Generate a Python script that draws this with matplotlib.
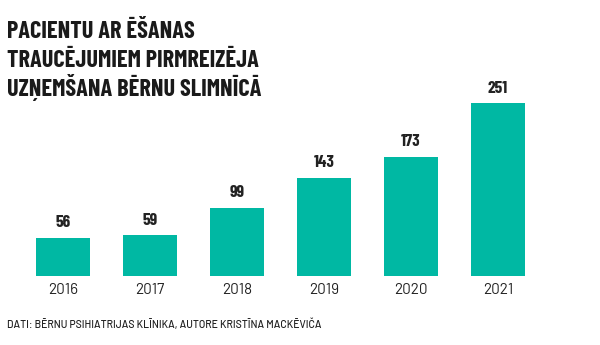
import matplotlib.pyplot as plt
import numpy as np

years = ['2016', '2017', '2018', '2019', '2020', '2021']
patients = [56, 59, 99, 143, 173, 251]

title_lines = ['PACIENTU AR ĒŠANAS', 'TRAUCĒJUMIEM PIRMREIZĒJA', 'UZŅEMŠANA BĒRNU SLIMNĪCĀ']
source = 'DATI: BĒRNU PSIHIATRIJAS KLĪNIKA, AUTORE KRISTĪNA MACKĒVIČA'

teal = '#00B8A3'
condensed = ['Barlow Condensed', 'DejaVu Sans']

fig = plt.figure(figsize=(6, 3.45), dpi=100)
ax = fig.add_axes([19.5 / 600, 69 / 345, 522 / 600, 242 / 345])

x = np.arange(len(years))
bars = ax.bar(x, patients, width=0.62, color=teal)
for rect, v in zip(bars, patients):
    ax.annotate(str(v), (rect.get_x() + rect.get_width() / 2, v),
                xytext=(0, 5.5), textcoords='offset points',
                ha='center', va='bottom', fontsize=12.5, fontweight='bold',
                family=condensed, color='#222222')

ax.set_xlim(-0.5, 5.5)
ax.set_ylim(0, 352)
ax.set_xticks(x)
ax.set_xticklabels(years, fontsize=11, family=['Barlow', 'DejaVu Sans'],
                   color='#222222')
ax.tick_params(axis='x', length=0, pad=5)
ax.set_yticks([])
for s in ax.spines.values():
    s.set_visible(False)

# title lines placed one by one so the spacing stays even
for i, line in enumerate(title_lines):
    fig.text(7 / 600, 1 - (38 + 29 * i) / 345, line, ha='left', va='baseline',
             fontsize=17.5, fontweight='bold', family=condensed, color='#1a1a1a')

fig.text(7 / 600, 1 - 328 / 345, source, ha='left', va='baseline', fontsize=7.5,
         fontweight='medium', family=['Barlow', 'DejaVu Sans'], color='#222222')

plt.savefig('out.png', dpi=100)
